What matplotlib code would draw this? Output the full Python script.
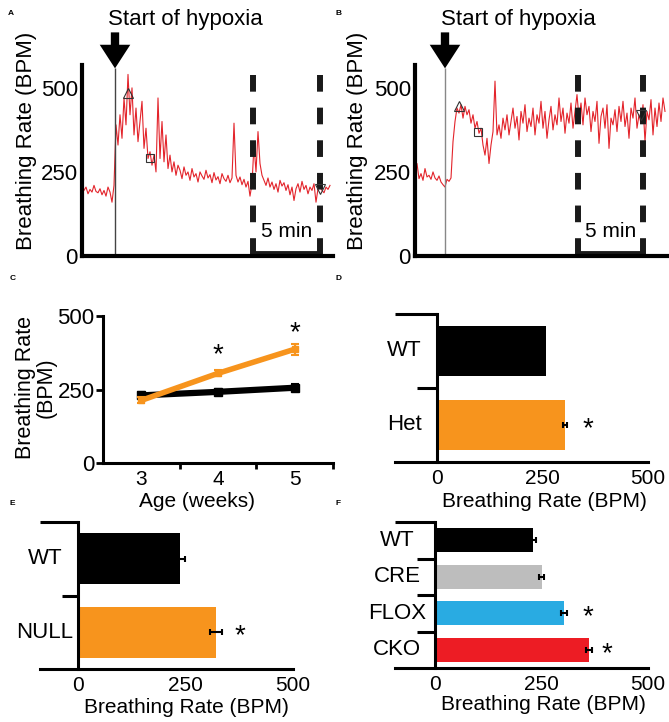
import numpy as np
import matplotlib.pyplot as plt

plt.rcParams['font.family'] = ['Liberation Sans', 'DejaVu Sans']
plt.rcParams['lines.scale_dashes'] = False

# ---- datos ----
# A: trazo de frecuencia respiratoria (BPM), una muestra cada ~2 px
trace_a = [200, 195, 205, 185, 198, 190, 210, 192, 188, 200, 182, 195, 178, 205, 190, 160, 210,
           390, 330, 420, 350, 470, 390, 540, 420, 500, 360, 440, 340, 400, 460, 320, 380, 290,
           310, 270, 300, 250, 470, 290, 400, 280, 360, 260, 300, 250, 280, 240, 270,
           255, 230, 265, 240, 250, 225, 260, 235, 245, 220, 250, 238, 228, 255, 232, 242, 218,
           248, 226, 236, 215, 245, 230, 222, 240, 218, 232,
           395, 240, 220, 235, 212, 228, 205, 222, 178, 215, 330, 250, 370, 275, 240,
           225, 210, 232, 205, 220, 198, 215, 190, 225, 208, 218, 195, 212, 182, 205, 165, 200,
           215, 190, 222, 198, 210, 185, 205, 195, 215, 160, 200, 210, 195, 188, 205, 198, 210]
hypoxia_a = 16.5
window_a = [85.5, 119]
up_a = (23, 485)
square_a = (34, 292)
down_a = (119, 200)

# B
trace_b = [240, 275, 230, 245, 225, 260, 235, 240, 228, 250, 232, 225, 238, 220, 212, 205,
           228, 222, 232, 340, 400, 440, 425, 450, 410, 445, 420, 435, 395, 420, 380, 400, 365,
           380, 330, 300, 350, 275, 330, 370, 520, 360,
           390, 350, 410, 375, 420, 360, 400, 440, 380, 415, 345, 430, 395, 450, 370, 410, 385, 440, 360,
           420, 395, 460, 380, 430, 350, 405, 445, 375, 420, 390, 470, 400, 440, 365, 425, 395, 455, 380, 430,
           480, 410, 455, 390, 470, 420, 445, 370, 430, 400, 460, 335, 415, 440, 380, 450, 320, 410, 390, 435,
           370, 445, 400, 460, 385, 425, 350, 440, 410, 470, 380, 420, 395, 450, 340, 430, 405, 465, 360, 440,
           385, 455, 400, 470, 430]
hypoxia_b = 15
window_b = [81.5, 114]
up_b = (22, 445)
square_b = (31.5, 370)
down_b = (113, 420)

# C
weeks = [3, 4, 5]
wt_c = [230, 242, 256]
wt_c_err = [10, 10, 12]
het_c = [213, 305, 387]
het_c_err = [10, 10, 18]

# D
groups_d = ['WT', 'Het']
vals_d = [258, 303]
err_d = [0, 5]
colors_d = ['black', '#F7941D']

# E
groups_e = ['WT', 'NULL']
vals_e = [237, 321]
err_e = [12, 13]
colors_e = ['black', '#F7941D']

# F
groups_f = ['WT', 'CRE', 'FLOX', 'CKO']
vals_f = [230, 251, 303, 361]
err_f = [6, 6, 7, 7]
colors_f = ['black', '#BDBDBD', '#29ABE2', '#ED1C24']

W, H = 669, 722
fig = plt.figure(figsize=(W / 100, H / 100), dpi=100)


def box(l, t, r, b):
    return [l / W, 1 - b / H, (r - l) / W, (b - t) / H]


def star(ax, x, y):
    ax.annotate('*', (x, y), xytext=(0, -8), textcoords='offset points',
                ha='center', va='baseline', fontsize=20, annotation_clip=False)


def trace_panel(rect, trace, hyp, window, up, square, down, xmax, line_color, label_x):
    ax = fig.add_axes(rect)
    ax.plot(np.arange(len(trace)), trace, color='#E3242B', lw=0.8)
    ax.vlines(hyp, 0, 560, color=line_color, lw=1)
    for t in window:
        ax.plot([t, t], [539, 0], color='#1a1a1a', lw=4.3, dashes=(12, 11.5),
                solid_capstyle='butt', dash_capstyle='butt', clip_on=False)
    ax.plot(window, [10, 10], color='#1a1a1a', lw=3.5, solid_capstyle='butt')
    ax.text(np.mean(window), 72, '5 min', ha='center', va='center', fontsize=15)
    ax.plot(*up, marker='^', mfc='none', mec='#333333', ms=7, mew=0.8)
    ax.plot(*square, marker='s', mfc='none', mec='#333333', ms=6, mew=0.8)
    ax.plot(*down, marker='v', mfc='none', mec='#333333', ms=7, mew=0.8)
    ax.annotate('', xy=(hyp, 558), xytext=(hyp, 665), annotation_clip=False,
                arrowprops=dict(facecolor='black', edgecolor='none', width=6,
                                headwidth=22, headlength=17, shrink=0))
    ax.text(13, 687, 'Start of hypoxia', fontsize=16, ha='left', va='baseline', clip_on=False)
    ax.set_xlim(0, xmax)
    ax.set_ylim(0, 568)
    ax.spines[['top', 'right']].set_visible(False)
    for s in ['left', 'bottom']:
        ax.spines[s].set_linewidth(3)
    ax.set_xticks([])
    ax.set_yticks([0, 250, 500])
    ax.tick_params(axis='y', length=0, pad=3, labelsize=16)
    ax.set_ylabel('Breathing Rate (BPM)', fontsize=16)
    ax.yaxis.set_label_coords(label_x, 0.602)
    return ax


trace_panel(box(82, 65, 333, 256), trace_a, hypoxia_a, window_a, up_a, square_a, down_a,
            125.5, '#444444', -0.181)
trace_panel(box(415, 65, 667, 256), trace_b, hypoxia_b, window_b, up_b, square_b, down_b,
            126, '#888888', -0.188)

# ---- C ----
ax = fig.add_axes(box(103, 316, 333, 463))
ax.errorbar(weeks, wt_c, yerr=wt_c_err, color='black', lw=4.5, marker='s', ms=6,
            capsize=3, elinewidth=1.5, capthick=1.5, zorder=2)
ax.errorbar(weeks, het_c, yerr=het_c_err, color='#F7941D', lw=4, marker='s', ms=5,
            capsize=3, elinewidth=1.5, capthick=1.5, zorder=3)
star(ax, 4, 382)
star(ax, 5, 456)
ax.set_xlim(2.5, 5.5)
ax.set_ylim(0, 500)
ax.spines[['top', 'right']].set_visible(False)
for s in ['left', 'bottom']:
    ax.spines[s].set_linewidth(2.2)
ax.set_xticks([3.5, 4.5, 5.5])
ax.set_xticklabels([])
ax.set_xticks(weeks, minor=True)
ax.set_xticklabels([str(w) for w in weeks], minor=True)
ax.tick_params(axis='x', which='major', length=4, width=2)
ax.tick_params(axis='x', which='minor', length=0, pad=5, labelsize=15)
ax.set_yticks([0, 250, 500])
ax.tick_params(axis='y', length=5, width=2, pad=1, labelsize=16)
ax.set_ylabel('Breathing Rate\n(BPM)', fontsize=15.5, linespacing=1.0)
ax.yaxis.set_label_coords(-0.2, 0.514)
ax.set_xlabel('Age (weeks)', fontsize=15)
ax.xaxis.set_label_coords(0.409, -0.2)


def bar_panel(rect, groups, vals, err, colors, xmin, tick_len, label_x, height, stars):
    ax = fig.add_axes(rect)
    pos = np.arange(len(groups))
    ax.barh(pos, vals, height=height, color=colors)
    for p, v, e in zip(pos, vals, err):
        if e > 0:
            ax.errorbar(v, p, xerr=e, fmt='none', ecolor='black', capsize=2,
                        elinewidth=1.5, capthick=1.5)
    for i, x in stars:
        star(ax, x, i)
    ax.set_xlim(xmin, 500)
    ax.set_ylim(len(groups) - 0.5, -0.5)
    ax.spines[['top', 'right']].set_visible(False)
    ax.spines['left'].set_position(('data', 0))
    for s in ['left', 'bottom']:
        ax.spines[s].set_linewidth(2.2)
    ax.set_yticks([])
    ax.plot([xmin, 0], [-0.5, -0.5], color='black', lw=2.2, clip_on=False, solid_capstyle='butt')
    for i in range(len(groups) - 1):
        ax.plot([tick_len, 0], [i + 0.5, i + 0.5], color='black', lw=2.2, clip_on=False,
                solid_capstyle='butt')
    for i, g in enumerate(groups):
        ax.text(label_x, i, g, ha='center', va='center', fontsize=16)
    ax.set_xticks([0, 250, 500])
    ax.tick_params(axis='x', length=0, pad=5, labelsize=15)
    ax.set_xlabel('Breathing Rate (BPM)', fontsize=15)
    return ax


ax = bar_panel(box(395, 314, 648, 462), groups_d, vals_d, err_d, colors_d, -100, -47, -78, 0.68,
               [(1, 358)])
ax.xaxis.set_label_coords(0.589, -0.2)
ax = bar_panel(box(40, 522, 293, 669), groups_e, vals_e, err_e, colors_e, -88, -37, -77, 0.7,
               [(1, 377)])
ax.xaxis.set_label_coords(0.58, -0.2)
ax = bar_panel(box(395, 522, 648, 668), groups_f, vals_f, err_f, colors_f, -94, -42, -89, 0.66,
               [(2, 359), (3, 404)])
ax.xaxis.set_label_coords(0.585, -0.185)

# letras de los paneles
for letter, (px, py) in zip('ABCDEF', [(8, 15), (336, 15), (10, 280), (335, 280),
                                       (10, 505), (336, 505)]):
    fig.text(px / W, 1 - py / H, letter, fontsize=6, fontweight='bold')

fig.savefig('out.png', dpi=100)
